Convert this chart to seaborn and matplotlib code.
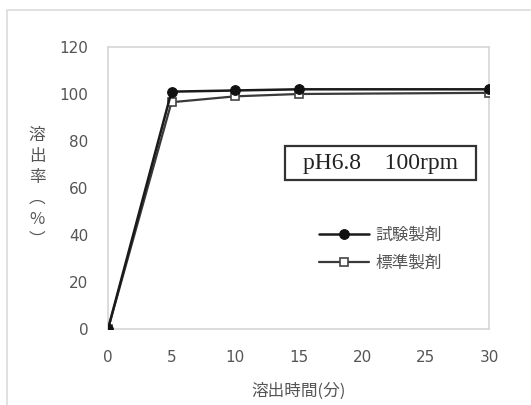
import matplotlib
matplotlib.use("Agg")
import matplotlib.pyplot as plt
import seaborn as sns
import pandas as pd
from matplotlib.patches import Rectangle

times = [0, 5, 10, 15, 30]
test_vals = [0, 101.0, 101.5, 102.0, 102.0]
ref_vals = [0, 96.5, 99.0, 100.0, 100.5]
series_names = ["試験製剤", "標準製剤"]
x_ticks = [0, 5, 10, 15, 20, 25, 30]
y_ticks = [0, 20, 40, 60, 80, 100, 120]

sns.set_theme(style="white")
plt.rcParams['font.family'] = ['Noto Sans CJK JP', 'DejaVu Sans']

fig = plt.figure(figsize=(5.31, 4.05), dpi=100)
ax = fig.add_axes([108/531, 1-329/405, (489-108)/531, (329-47)/405])

# outer frame
fig.patches.append(Rectangle((7/531, -0.1), 1.2, 1 - 10/405 + 0.1, transform=fig.transFigure,
                             fill=False, edgecolor="#dcdcdc", linewidth=1.2))

df_ref = pd.DataFrame({"x": times, "y": ref_vals})
df_test = pd.DataFrame({"x": times, "y": test_vals})

sns.lineplot(data=df_ref, x="x", y="y", ax=ax, color="#3a3a3a", linewidth=1.6,
             marker="s", markersize=6, markerfacecolor="white", markeredgecolor="#444444",
             markeredgewidth=1.2, label=series_names[1], zorder=3)
sns.lineplot(data=df_test, x="x", y="y", ax=ax, color="#1a1a1a", linewidth=1.8,
             marker="o", markersize=7, markerfacecolor="#111111", markeredgecolor="#111111",
             label=series_names[0], zorder=4)

ax.set_xlim(0, 30)
ax.set_ylim(0, 120)
ax.set_xticks(x_ticks)
ax.set_yticks(y_ticks)
ax.tick_params(axis="both", direction="in", length=3, color="#cccccc", labelsize=11,
               labelcolor="#555555")
for lab in ax.get_xticklabels() + ax.get_yticklabels():
    lab.set_family(["DejaVu Sans"])
ax.tick_params(axis="x", pad=15)
ax.tick_params(axis="y", pad=14)
for s in ax.spines.values():
    s.set_color("#d6d6d6")
    s.set_linewidth(1.2)
    s.set_visible(True)

ax.set_xlabel("溶出時間(分)", fontsize=12, color="#555555", labelpad=13)
ax.set_ylabel("")
fig.text(37/531, 1-188/405, "\n".join(["溶", "出", "率", "︵", "%", "︶"]), fontsize=12,
         color="#555555", ha="center", va="center", linespacing=1.3)

handles, labels = ax.get_legend_handles_labels()
order = [labels.index(series_names[0]), labels.index(series_names[1])]
leg = ax.legend([handles[i] for i in order], [labels[i] for i in order],
                loc="upper left", bbox_to_anchor=((312-108)/381, 1-(220-47)/282),
                frameon=False, fontsize=12, handlelength=3.0, handletextpad=0.4,
                labelspacing=0.65, borderaxespad=0)
for t in leg.get_texts():
    t.set_color("#555555")

# annotation box
ax.add_patch(Rectangle((13.9, 63.4), 15.1, 14.5, facecolor="white", edgecolor="#333333",
                       linewidth=1.6, zorder=5))
ax.text(21.45, 70.6, "pH6.8\u3000100rpm", fontsize=17,
        family=["Liberation Serif", "Noto Sans CJK JP", "DejaVu Serif"],
        ha="center", va="center", color="#222222", zorder=6)

fig.savefig("out.png", dpi=100)
